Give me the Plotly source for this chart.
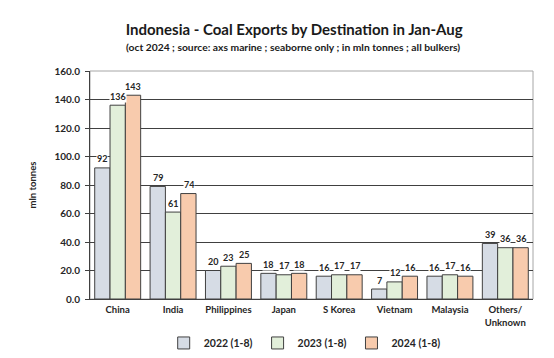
import plotly.graph_objects as go

categories = ["China", "India", "Philippines", "Japan", "S Korea", "Vietnam", "Malaysia", "Others/<br>Unknown"]
series_names = ["2022 (1-8)", "2023 (1-8)", "2024 (1-8)"]
v2022 = [92, 79, 20, 18, 16, 7, 16, 39]
v2023 = [136, 61, 23, 17, 17, 12, 17, 36]
v2024 = [143, 74, 25, 18, 17, 16, 16, 36]
y_ticks = [0, 20, 40, 60, 80, 100, 120, 140, 160]
title_text = "Indonesia - Coal Exports by Destination in Jan-Aug"
subtitle_text = "(oct 2024 ; source: axs marine ; seaborne only ; in mln tonnes ; all bulkers)"

colors = ["#D6DCE5", "#E2EFDA", "#F8CBAD"]
FONT = "Lato"

fig = go.Figure()
all_vals = [v2022, v2023, v2024]
for name, vals, col in zip(series_names, all_vals, colors):
    fig.add_trace(go.Bar(
        x=categories, y=vals, name=f"<b>{name}</b>",
        marker=dict(color=col, line=dict(color="#404040", width=1)),
    ))

# data labels with white background (hide gridlines behind)
offsets = [-15.5, 0, 15.5]
for vals, off in zip(all_vals, offsets):
    for c, v in zip(categories, vals):
        fig.add_annotation(
            x=c, y=v, xshift=off, yshift=9, text=f"<b>{v}</b>", showarrow=False,
            font=dict(family=FONT, size=9, color="#262626"),
            bgcolor="white", borderpad=0,
        )

# subtitle
fig.add_annotation(
    xref="paper", yref="paper", x=0.459, y=1.105, xanchor="center", yanchor="middle",
    text=f"<b>{subtitle_text}</b>", showarrow=False,
    font=dict(family=FONT, size=10.3, color="#1a1a1a"),
)

fig.add_shape(type="rect", xref="paper", yref="paper", x0=0, x1=1, y0=0, y1=1,
              line=dict(color="#A6A6A6", width=1), layer="below")

fig.update_layout(
    width=554, height=358,
    margin=dict(l=90, r=21, t=71, b=59, autoexpand=False),
    paper_bgcolor="white", plot_bgcolor="white",
    barmode="group", bargap=0.17, bargroupgap=0,
    font=dict(family=FONT, color="#262626"),
    title=dict(
        text=f"<b>{title_text}</b>",
        x=0.531, xanchor="center", y=0.916, yanchor="middle",
        font=dict(family=FONT, size=15, color="#1a1a1a"),
    ),
    yaxis=dict(
        range=[0, 160], tickvals=y_ticks, tickformat=".1f",
        showgrid=True, gridcolor="#404040", gridwidth=1,
        showline=True, linecolor="#404040", linewidth=1,
        ticks="outside", ticklen=4, tickcolor="#404040",
        tickfont=dict(family=FONT, size=10, color="#262626", weight="bold"),
        ticklabelstandoff=3,
        title=dict(text="<b>mln tonnes</b>", font=dict(family=FONT, size=9.5), standoff=16),
        zeroline=False, automargin=False,
    ),
    xaxis=dict(
        showline=True, linecolor="#404040", linewidth=1,
        tickfont=dict(family=FONT, size=9.5, color="#262626", weight="bold"),
        ticklabelstandoff=2, automargin=False,
    ),
    legend=dict(
        orientation="h", x=0.55, xref="container", xanchor="center",
        y=0.042, yref="container", yanchor="middle",
        font=dict(family=FONT, size=10.5, color="#262626"),
        itemwidth=30, traceorder="normal",
    ),
    showlegend=True,
)

fig.write_html("out.html", config={"displayModeBar": False},
               post_script="document.body.style.margin='0';")
